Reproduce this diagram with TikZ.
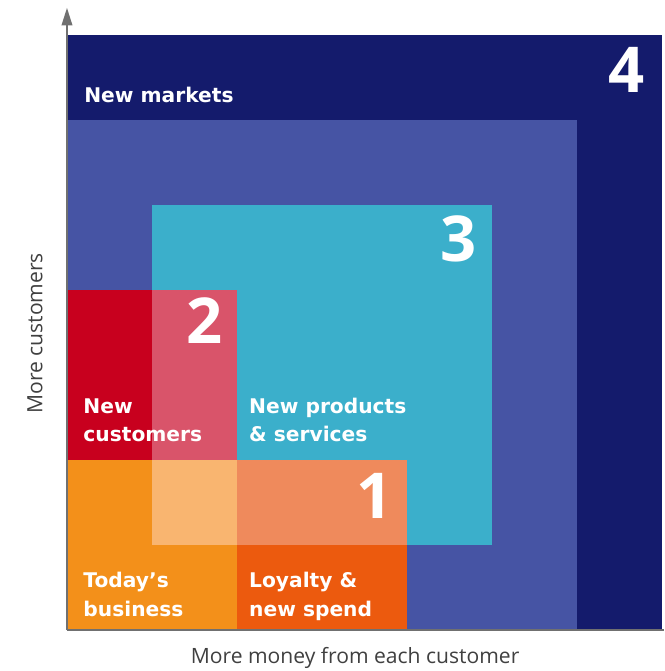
\documentclass[tikz,border=0pt]{standalone}
\usepackage{fontspec}
\setmainfont{DejaVu Sans}
\newfontfamily\axisfont{Open Sans}
\usepackage{tikz}
\usetikzlibrary{arrows.meta}
\definecolor{navy}{HTML}{141B6C}
\definecolor{midblue}{HTML}{4654A4}
\definecolor{cyanbox}{HTML}{3BAFCB}
\definecolor{redbox}{HTML}{C8001E}
\definecolor{pinkbox}{HTML}{D9546A}
\definecolor{orangebox}{HTML}{F3901A}
\definecolor{lightorange}{HTML}{F9B570}
\definecolor{salmon}{HTML}{EF8A5C}
\definecolor{deeporange}{HTML}{EC5A0E}
\definecolor{axisgray}{HTML}{707070}
\definecolor{axistext}{HTML}{404040}
\tikzstyle{boxtext} = [anchor=north west, inner sep=0, align=left, text=white, font=\fontsize{11.5}{16}\selectfont\bfseries]
\tikzstyle{num} = [anchor=north east, inner sep=0, text=white, font=\axisfont\bfseries\fontsize{36}{36}\selectfont]
\tikzstyle{axisline} = [draw=axisgray, line width=1.1pt]
\tikzstyle{axislabel} = [text=axistext, font=\axisfont\fontsize{12}{14}\selectfont]

\begin{document}
\begin{tikzpicture}[x=1.7cm, y=1.7cm]
		\useasboundingbox (-0.788,-0.482) rectangle (7.024,7.412);
		
		% nested growth squares
		\fill[navy] (0,0) rectangle (7.0,7.0);
		\fill[midblue] (0,0) rectangle (6,6);
		\fill[cyanbox] (1,1) rectangle (5,5);
		\fill[redbox] (0,2) rectangle (2,4);
		\fill[pinkbox] (1,2) rectangle (2,4);
		\fill[orangebox] (0,0) rectangle (2,2);
		\fill[lightorange] (1,1) rectangle (2,2);
		\fill[deeporange] (2,0) rectangle (4,2);
		\fill[salmon] (2,1) rectangle (4,2);
		
		\node (markets) [boxtext] at (0.2,6.39) {New markets};
		\node (customers) [boxtext] at (0.19,2.73) {New\\customers};
		\node (products) [boxtext] at (2.14,2.73) {New products\\\& services};
		\node (today) [boxtext] at (0.19,0.68) {Today's\\business};
		\node (loyalty) [boxtext] at (2.14,0.68) {Loyalty \&\\new spend};
		
		\node (four) [num] at (6.8,6.86) {4};
		\node (three) [num] at (4.82,4.88) {3};
		\node (two) [num] at (1.84,3.91) {2};
		\node (one) [num] at (3.84,1.85) {1};
		
		% axes
		\coordinate (origin) at (0,0);
		\coordinate (ytip) at (0,7.32);
		\coordinate (xend) at (7.024,0);
		\draw[axisline, -{Triangle[length=10pt,width=6pt]}] (origin) -- (ytip);
		\draw[axisline] (origin) -- (xend);
		
		\node (ylabel) [axislabel, rotate=90] at (-0.376,3.49) {More customers};
		\node (xlabel) [axislabel] at (3.39,-0.33) {More money from each customer};
	\end{tikzpicture}
\end{document}
